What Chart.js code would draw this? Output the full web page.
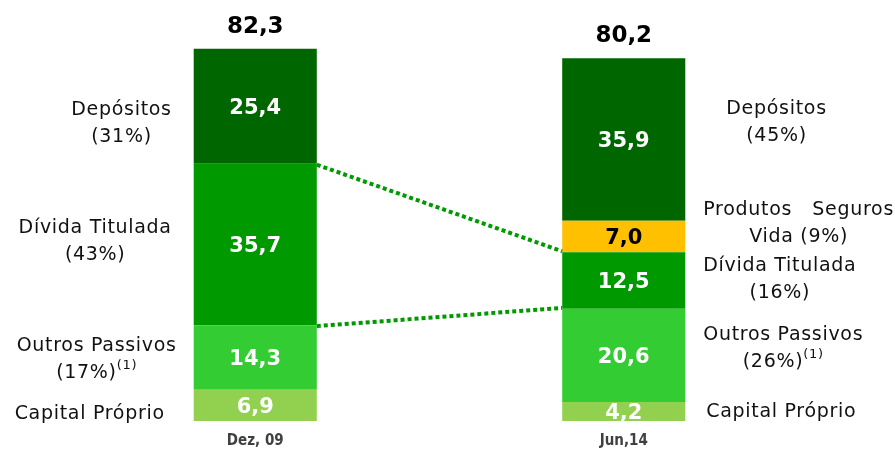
<!DOCTYPE html>
<html>
<head>
<meta charset="utf-8">
<script src="https://cdn.jsdelivr.net/npm/chart.js@4"></script>
<style>
body{margin:0;background:#fff}
#wrap{width:895px;height:452px;position:relative}
</style>
</head>
<body>
<div id="wrap"><canvas id="chart"></canvas></div>
<script>
// data (bottom of stack first)
const periods = ['Dez, 09', 'Jun,14'];
const capitalProprio = [6.9, 4.2];
const outrosPassivos = [14.3, 20.6];
const dividaTitulada = [35.7, 12.5];
const segurosVida = [0, 7.0];
const depositos = [25.4, 35.9];

const seriesNames = ['Capital Próprio', 'Outros Passivos', 'Dívida Titulada', 'Produtos Seguros Vida', 'Depósitos'];
const leftLabels = [['Capital Próprio'], ['Outros Passivos', '(17%)'], ['Dívida Titulada', '(43%)'], null, ['Depósitos', '(31%)']];
const rightLabels = [['Capital Próprio'], ['Outros Passivos', '(26%)'], ['Dívida Titulada', '(16%)'], ['Produtos   Seguros', 'Vida (9%)'], ['Depósitos', '(45%)']];
const footNotes = ['', '(1)', '', '', ''];

const colors = ['#92D050', '#33CC33', '#009900', '#FFC000', '#006600'];
const valueColors = ['#fff', '#fff', '#fff', '#000', '#fff'];

// label placement tweaks (px)
const leftNudgeX = [-7, 5, 0, 0, 0];
const leftNudgeY = [9, 2, -3, 0, 17];
const rightNudgeY = [1, -7, -1, -13, -17];
const rightNudgeX = [3, 0, 0, 0, 23];

const FONT = "'DejaVu Sans', Verdana, sans-serif";

function fmt(v) { return v.toFixed(1).replace('.', ','); }

const labelPlugin = {
  id: 'labelPlugin',
  afterDatasetsDraw(chart) {
    const ctx = chart.ctx;
    const metas = chart.data.datasets.map((d, i) => chart.getDatasetMeta(i));

    // dotted connectors between the tops of Outros Passivos and Dívida Titulada
    ctx.save();
    ctx.strokeStyle = '#009900';
    ctx.lineWidth = 4;
    ctx.setLineDash([4, 3]);
    [1, 2].forEach(di => {
      const a = metas[di].data[0], b = metas[di].data[1];
      ctx.beginPath();
      ctx.moveTo(a.x + a.width / 2, a.y + 1);
      ctx.lineTo(b.x - b.width / 2, b.y - 1);
      ctx.stroke();
    });
    ctx.restore();

    // values inside the segments
    ctx.save();
    ctx.textAlign = 'center';
    ctx.textBaseline = 'middle';
    ctx.font = 'bold 21px ' + FONT;
    chart.data.datasets.forEach((ds, di) => {
      ds.data.forEach((v, i) => {
        if (!v) return;
        const bar = metas[di].data[i];
        ctx.fillStyle = valueColors[di];
        ctx.fillText(fmt(v), bar.x, (bar.y + bar.base) / 2 + 2);
      });
    });
    ctx.restore();

    // totals and category labels
    ctx.save();
    ctx.textAlign = 'center';
    ctx.textBaseline = 'middle';
    periods.forEach((p, i) => {
      const top = metas[metas.length - 1].data[i];
      const total = chart.data.datasets.reduce((s, ds) => s + (ds.data[i] || 0), 0);
      ctx.fillStyle = '#000';
      ctx.font = 'bold 23px ' + FONT;
      ctx.fillText(fmt(total), top.x, top.y - 22);
      ctx.fillStyle = '#404040';
      ctx.font = "bold 15px 'DejaVu Sans Condensed', 'DejaVu Sans', sans-serif";
      ctx.fillText(p, top.x, 441);
    });
    ctx.restore();

    // side labels
    ctx.save();
    ctx.textBaseline = 'middle';
    ctx.fillStyle = '#111';
    const lh = 27;
    [leftLabels, rightLabels].forEach((labels, side) => {
      labels.forEach((lines, di) => {
        if (!lines) return;
        const bar = metas[di].data[side];
        const cy = (bar.y + bar.base) / 2 + (side === 0 ? leftNudgeY[di] : rightNudgeY[di]);
        ctx.font = '19px ' + FONT;
        ctx.letterSpacing = '0.7px';
        const widths = lines.map((t, k) => {
          let w = ctx.measureText(t).width;
          if (k === lines.length - 1 && footNotes[di]) {
            ctx.font = '13px ' + FONT;
            w += ctx.measureText(footNotes[di]).width;
            ctx.font = '19px ' + FONT;
          }
          return w;
        });
        const blockW = Math.max(...widths);
        let cx;
        if (side === 0) cx = bar.x - bar.width / 2 - 22 + leftNudgeX[di] - blockW / 2;
        else cx = bar.x + bar.width / 2 + 18 + rightNudgeX[di] + blockW / 2;
        lines.forEach((t, k) => {
          const y = cy + (k - (lines.length - 1) / 2) * lh;
          const x0 = cx - widths[k] / 2;
          ctx.textAlign = 'left';
          ctx.font = '19px ' + FONT;
          ctx.fillText(t, x0, y);
          if (k === lines.length - 1 && footNotes[di]) {
            const tw = ctx.measureText(t).width;
            ctx.font = '13px ' + FONT;
            ctx.fillText(footNotes[di], x0 + tw, y - 7);
          }
        });
      });
    });
    ctx.restore();
  }
};

const datasets = [capitalProprio, outrosPassivos, dividaTitulada, segurosVida, depositos].map((d, i) => ({
  label: seriesNames[i],
  data: d,
  backgroundColor: colors[i],
  borderWidth: 0,
  categoryPercentage: 1,
  barPercentage: 0.334
}));

new Chart(document.getElementById('chart'), {
  type: 'bar',
  data: { labels: periods, datasets: datasets },
  options: {
    responsive: true,
    maintainAspectRatio: false,
    animation: false,
    layout: { padding: { left: 71, right: 87, top: 14, bottom: 31 } },
    plugins: { legend: { display: false }, tooltip: { enabled: false } },
    scales: {
      x: { stacked: true, display: false },
      y: { stacked: true, display: false, min: 0, max: 90 }
    }
  },
  plugins: [labelPlugin]
});
</script>
</body>
</html>
